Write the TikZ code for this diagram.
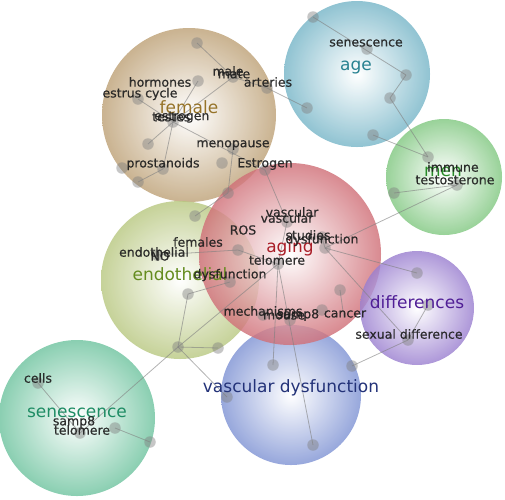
\documentclass[tikz,border=0pt]{standalone}
\usepackage{fontspec}
\setmainfont{DejaVu Sans}
\newfontfamily\lblfont[FakeBold=0.6]{DejaVu Sans}
\definecolor{cFem}{RGB}{190,162,120}
\definecolor{cAge}{RGB}{120,182,200}
\definecolor{cMen}{RGB}{130,200,130}
\definecolor{cAging}{RGB}{208,112,120}
\definecolor{cEndo}{RGB}{185,200,130}
\definecolor{cDiff}{RGB}{155,128,208}
\definecolor{cVasc}{RGB}{128,148,212}
\definecolor{cSen}{RGB}{112,196,160}
\definecolor{tFem}{RGB}{150,115,40}
\definecolor{tAge}{RGB}{40,130,145}
\definecolor{tMen}{RGB}{40,140,40}
\definecolor{tAging}{RGB}{170,30,40}
\definecolor{tEndo}{RGB}{100,140,30}
\definecolor{tDiff}{RGB}{80,30,150}
\definecolor{tVasc}{RGB}{35,50,120}
\definecolor{tSen}{RGB}{30,140,100}
\definecolor{txt}{RGB}{30,30,30}
\tikzset{
  bubble/.style={circle, inner sep=0pt, minimum size=#1, opacity=0.82},
  dotnode/.style={circle, inner sep=0pt, minimum size=11.5pt, fill=gray, opacity=0.45},
  link/.style={draw=gray, line width=0.8pt, opacity=0.6},
  small/.style={inner sep=0pt, text=txt, font=\lblfont\fontsize{12.5}{14}\selectfont, opacity=0.9},
  big/.style={inner sep=0pt, font=\fontsize{17}{19}\selectfont}
}
\begin{document}
\begin{tikzpicture}[x=1pt,y=-1pt]
\useasboundingbox (0,0) rectangle (505,499);
% bubbles
\node[bubble=174pt, inner color=white, outer color=cFem] (cfem) at (189,115) {};
\node[bubble=146pt, inner color=white, outer color=cAge] (cage) at (357,74) {};
\node[bubble=116pt, inner color=white, outer color=cMen] (cmen) at (444,177) {};
\node[bubble=158pt, inner color=white, outer color=cEndo] (cendo) at (180,280) {};
\node[bubble=140pt, inner color=white, outer color=cVasc] (cvasc) at (291,395) {};
\node[bubble=182pt, inner color=white, outer color=cAging] (caging) at (290,254) {};
\node[bubble=114pt, inner color=white, outer color=cDiff] (cdiff) at (417,308) {};
\node[bubble=156pt, inner color=white, outer color=cSen] (csen) at (77,418) {};
% points
\coordinate (f1) at (197,43);
\coordinate (f2) at (198,81);
\coordinate (f3) at (233,77);
\coordinate (f4) at (267,88);
\coordinate (f5) at (138,99);
\coordinate (f6) at (173,122);
\coordinate (f7) at (148,144);
\coordinate (f8) at (233,149);
\coordinate (f9) at (222,163);
\coordinate (f10) at (163,169);
\coordinate (f11) at (122,168);
\coordinate (f12) at (138,182);
\coordinate (f13) at (265,170);
\coordinate (f14) at (228,193);
\coordinate (a1) at (313,17);
\coordinate (a2) at (367,49);
\coordinate (a3) at (406,75);
\coordinate (a4) at (390,98);
\coordinate (a5) at (307,108);
\coordinate (a6) at (373,135);
\coordinate (m1) at (428,157);
\coordinate (m2) at (457,185);
\coordinate (m3) at (394,193);
\coordinate (g1) at (287,222);
\coordinate (g2) at (322,237);
\coordinate (g3) at (325,248);
\coordinate (g4) at (238,250);
\coordinate (g5) at (278,264);
\coordinate (g6) at (230,282);
\coordinate (g7) at (340,290);
\coordinate (g8) at (263,315);
\coordinate (g9) at (290,320);
\coordinate (g10) at (322,310);
\coordinate (g11) at (344,318);
\coordinate (e1) at (195,216);
\coordinate (e2) at (157,255);
\coordinate (e3) at (188,294);
\coordinate (e4) at (178,347);
\coordinate (e5) at (218,348);
\coordinate (v1) at (273,365);
\coordinate (v2) at (352,366);
\coordinate (v3) at (313,445);
\coordinate (v4) at (227,397);
\coordinate (d1) at (417,273);
\coordinate (d2) at (428,305);
\coordinate (d3) at (408,340);
\coordinate (s1) at (38,383);
\coordinate (s2) at (80,433);
\coordinate (s3) at (115,428);
\coordinate (s4) at (150,442);
% links
\draw[link] (f1) -- (f3);
\draw[link] (f3) -- (f4);
\draw[link] (f4) -- (a5);
\draw[link] (f3) -- (f6);
\draw[link] (f2) -- (f6);
\draw[link] (f5) -- (f6);
\draw[link] (f6) -- (f7);
\draw[link] (f6) -- (f10);
\draw[link] (f6) -- (f13);
\draw[link] (f8) -- (f14);
\draw[link] (f14) -- (e1);
\draw[link] (f10) -- (f12);
\draw[link] (f13) -- (g1);
\draw[link] (g1) -- (g5);
\draw[link] (a1) -- (a3);
\draw[link] (a3) -- (a4);
\draw[link] (a4) -- (m1);
\draw[link] (a6) -- (m1);
\draw[link] (m3) -- (m2);
\draw[link] (m2) -- (g3);
\draw[link] (g2) -- (g3);
\draw[link] (g3) -- (d1);
\draw[link] (g3) -- (d3);
\draw[link] (g4) -- (e2);
\draw[link] (g4) -- (g5);
\draw[link] (g5) -- (v1);
\draw[link] (g5) -- (v3);
\draw[link] (g5) -- (e4);
\draw[link] (g7) -- (g11);
\draw[link] (d2) -- (d3);
\draw[link] (d3) -- (v2);
\draw[link] (e4) -- (e5);
\draw[link] (e4) -- (e3);
\draw[link] (e3) -- (g6);
\draw[link] (e4) -- (v4);
\draw[link] (e4) -- (s2);
\draw[link] (s1) -- (s2);
\draw[link] (s3) -- (s4);
% dots
\foreach \p in {f1,f2,f3,f4,f5,f6,f7,f8,f9,f10,f11,f12,f13,f14,a1,a2,a3,a4,a5,a6,m1,m2,m3,g1,g2,g3,g4,g5,g6,g7,g8,g9,g10,e1,e2,e3,e4,e5,v1,v2,v3,v4,d1,d2,d3,s1,s2,s3,s4}
  \node[dotnode] (n\p) at (\p) {};
% big labels
\node[big, text=tFem] (lfem) at (189,107) {female};
\node[big, text=tAge] (lage) at (356,68) {age};
\node[big, text=tMen] (lmen) at (443,172) {men};
\node[big, text=tAging] (laging) at (290,248) {aging};
\node[big, text=tEndo] (lendo) at (180,274) {endothelial};
\node[big, text=tDiff] (ldiff) at (417,302) {differences};
\node[big, text=tVasc] (lvasc) at (291,388) {vascular dysfunction};
\node[big, text=tSen] (lsen) at (77,413) {senescence};
% small labels
\node[small] (t1) at (366,43) {senescence};
\node[small] (t2) at (228,71) {male};
\node[small] (t3) at (234,74) {mate};
\node[small] (t4) at (160,82) {hormones};
\node[small] (t5) at (268,82) {arteries};
\node[small] (t6) at (140,94) {estrus cycle};
\node[small, anchor=west] (t7) at (152,117) {testes};
\node[small, anchor=west] (t8) at (154,117) {estrogen};
\node[small] (t9) at (233,145) {menopause};
\node[small] (t10) at (163,164) {prostanoids};
\node[small] (t11) at (265,164) {Estrogen};
\node[small] (t12) at (453,167) {immune};
\node[small] (t13) at (455,180) {testosterone};
\node[small] (t14) at (292,212) {vascular};
\node[small] (t15) at (287,218) {vascular};
\node[small] (t16) at (243,230) {ROS};
\node[small] (t17) at (308,235) {studies};
\node[small] (t18) at (322,240) {dysfunction};
\node[small] (t19) at (198,242) {females};
\node[small] (t20) at (154,252) {endothelial};
\node[small] (t21) at (160,256) {NO};
\node[small] (t22) at (277,260) {telomere};
\node[small] (t23) at (230,275) {dysfunction};
\node[small] (t24) at (263,311) {mechanisms};
\node[small] (t25) at (284,316) {mouse};
\node[small] (t26) at (298,315) {samp8};
\node[small] (t27) at (345,314) {cancer};
\node[small] (t28) at (409,334) {sexual difference};
\node[small] (t29) at (38,378) {cells};
\node[small] (t30) at (74,422) {samp8};
\node[small] (t31) at (82,430) {telomere};
\end{tikzpicture}
\end{document}
